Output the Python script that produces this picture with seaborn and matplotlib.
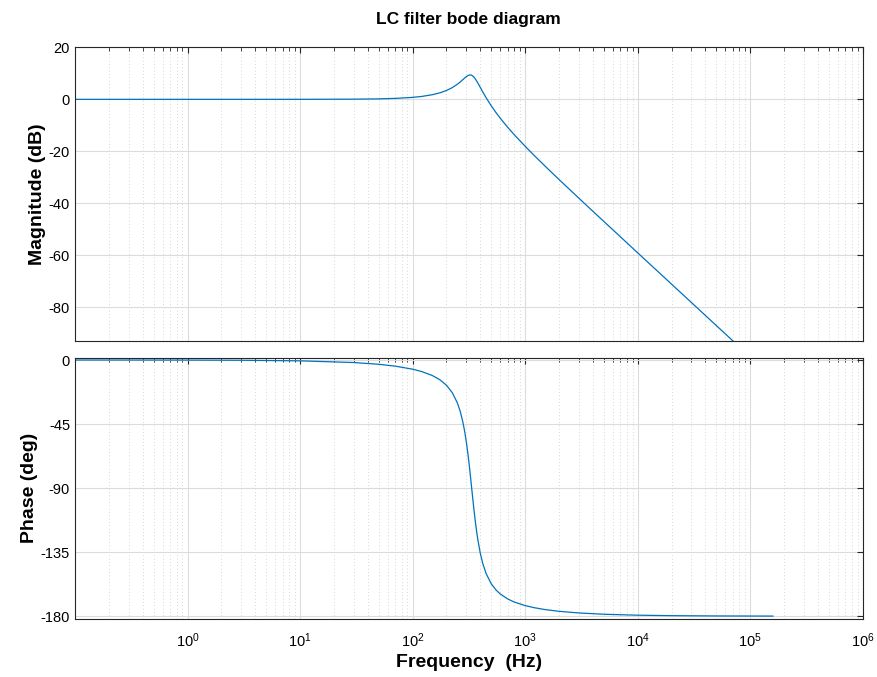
# LC filter bode diagram - rebuilt with seaborn
import numpy as np
import pandas as pd
import matplotlib
matplotlib.use('Agg')
import matplotlib.pyplot as plt
import matplotlib.ticker as mticker
import seaborn as sns

# Values (frequency in Hz)
freq = [0.1, 0.3, 1, 3, 10, 30, 50, 70, 100, 120, 150, 175, 200, 225, 250,
        265, 280, 290, 300, 310, 315, 320, 325, 330, 335, 340, 345, 350, 355,
        360, 370, 380, 400, 420, 450, 500, 550, 600, 700, 800, 1000, 1200,
        1500, 2000, 3000, 5000, 1e4, 2e4, 5e4, 1e5, 1.6e5]
mag_db = [0.0, 0.0, 0.0, 0.0, 0.007, 0.066, 0.184, 0.363, 0.756, 1.107,
          1.785, 2.509, 3.405, 4.499, 5.808, 6.687, 7.597, 8.184, 8.710,
          9.120, 9.261, 9.350, 9.379, 9.346, 9.248, 9.087, 8.868, 8.596,
          8.279, 7.924, 7.136, 6.285, 4.550, 2.891, 0.647, -2.485, -5.045,
          -7.207, -10.737, -13.578, -18.037, -21.508, -25.626, -30.808,
          -37.98, -46.92, -58.99, -71.04, -86.96, -99.0, -107.16]
phase_deg = [-0.006, -0.018, -0.059, -0.18, -0.59, -1.78, -3.01, -4.31, -6.45,
             -8.07, -10.93, -13.91, -17.74, -22.88, -30.14, -36.09, -43.72,
             -49.99, -57.33, -65.76, -70.34, -75.11, -80.03, -85.02, -90.0,
             -94.91, -99.68, -104.26, -108.60, -112.68, -120.0, -126.24,
             -135.96, -142.91, -150.06, -157.26, -161.54, -164.37, -167.92,
             -170.07, -172.59, -174.04, -175.37, -176.60, -177.77, -178.67,
             -179.34, -179.67, -179.87, -179.93, -179.96]

mag_ticks = [20, 0, -20, -40, -60, -80]
phase_ticks = [0, -45, -90, -135, -180]
freq_ticks = [1e0, 1e1, 1e2, 1e3, 1e4, 1e5, 1e6]

bode = pd.DataFrame({'freq': freq, 'mag': mag_db, 'phase': phase_deg})

sns.set_style('white')
plt.rcParams['font.family'] = ['Liberation Sans', 'DejaVu Sans']
plt.rcParams['axes.unicode_minus'] = False
plt.rcParams['text.color'] = 'black'
plt.rcParams['axes.labelcolor'] = 'black'

fig = plt.figure(figsize=(8.78, 6.77), dpi=100)
ax1 = fig.add_axes([0.0854, 0.4967, 0.8972, 0.4334])
ax2 = fig.add_axes([0.0854, 0.0857, 0.8972, 0.3859])

line_col = '#0072BD'
sns.lineplot(data=bode, x='freq', y='mag', ax=ax1, color=line_col, linewidth=0.9)
sns.lineplot(data=bode, x='freq', y='phase', ax=ax2, color=line_col, linewidth=0.9)

for ax in (ax1, ax2):
    ax.set_xscale('log')
    ax.set_xlim(0.1, 1e6)
    ax.set_xticks(freq_ticks)
    ax.xaxis.set_minor_locator(mticker.LogLocator(base=10, subs=np.arange(2, 10), numticks=20))
    ax.xaxis.set_minor_formatter(mticker.NullFormatter())
    ax.grid(True, which='major', color='#dcdcdc', linewidth=0.8, linestyle='-')
    ax.grid(True, which='minor', axis='x', color='#c8c8c8', linewidth=0.6, linestyle=(0, (1, 3)))
    ax.set_axisbelow(True)
    ax.tick_params(which='both', direction='in', top=True, right=True,
                   colors='#262626', labelcolor='black', labelsize=10.5)
    ax.tick_params(which='major', length=4, width=0.8)
    ax.tick_params(which='minor', length=3, width=0.6)
    for sp in ax.spines.values():
        sp.set_color('#262626')
        sp.set_linewidth(0.8)

ax1.set_ylim(-92.8, 20)
ax1.set_yticks(mag_ticks)
ax1.set_xticklabels([])
ax1.set_xlabel('')
ax1.set_ylabel('Magnitude (dB)', fontsize=14, fontweight='bold', labelpad=2)
ax1.set_title('LC filter bode diagram', fontsize=12.5, fontweight='bold', pad=17)

ax2.set_ylim(-182, 1.6)
ax2.set_yticks(phase_ticks)
ax2.xaxis.set_major_formatter(mticker.LogFormatterMathtext())
ax2.tick_params(axis='x', which='major', pad=9)
ax2.set_ylabel('Phase (deg)', fontsize=14, fontweight='bold', labelpad=2)
ax2.set_xlabel('Frequency  (Hz)', fontsize=14, fontweight='bold', labelpad=3)

fig.savefig('out.png', dpi=100)
